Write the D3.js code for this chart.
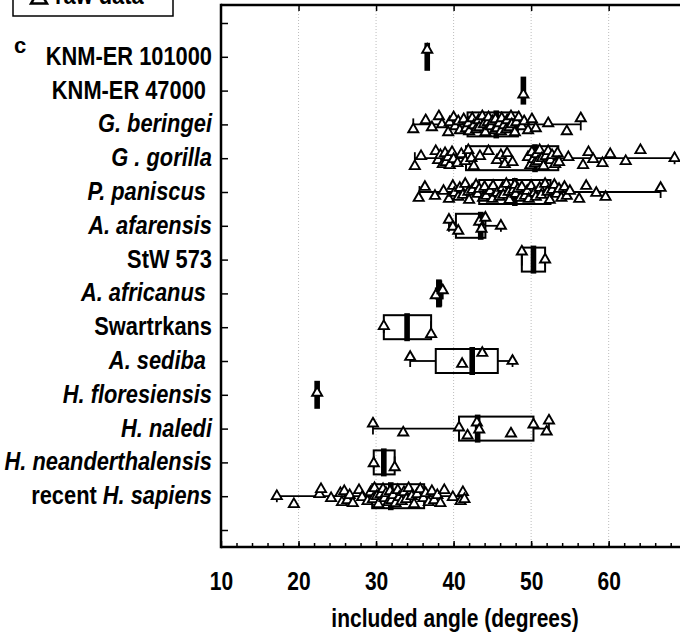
<!DOCTYPE html>
<html>
<head>
<meta charset="utf-8">
<script src="https://d3js.org/d3.v7.min.js"></script>
<style>
  html, body { margin: 0; padding: 0; background: #fff; }
  svg { display: block; }
  text { font-family: "Liberation Sans", Arial, sans-serif; font-weight: bold; fill: #000; }
</style>
</head>
<body>
<div id="chart"></div>
<script>
// categories, top to bottom
const categories = [
  "KNM-ER 101000", "KNM-ER 47000\u00a0", "G. beringei", "G . gorilla", "P. paniscus\u00a0",
  "A. afarensis", "StW 573", "A. africanus\u00a0", "Swartrkans", "A. sediba\u00a0",
  "H. floresiensis", "H. naledi", "H. neanderthalensis", "recent H. sapiens"
];
const uprightLabels = ["KNM-ER 101000", "KNM-ER 47000\u00a0", "StW 573", "Swartrkans"];

// box statistics (degrees)
const mins    = [36.6, 49.0, 34.8, 35.0, 35.6, 39.4, 48.8, 37.7, 31.0, 34.4, 22.4, 29.6, 29.7, 17.2];
const q1s     = [36.6, 49.0, 41.8, 41.6, 43.3, 40.3, 48.8, 37.9, 31.0, 37.7, 22.4, 40.7, 29.7, 29.5];
const medians = [36.6, 49.0, 45.5, 50.5, 47.9, 43.5, 50.3, 38.1, 34.0, 42.4, 22.4, 43.1, 31.0, 31.9];
const q3s     = [36.6, 49.0, 48.3, 53.5, 52.5, 44.1, 51.8, 38.4, 37.1, 45.7, 22.4, 50.3, 32.4, 36.2];
const maxs    = [36.6, 49.0, 56.4, 68.5, 66.7, 46.1, 51.8, 38.6, 37.1, 47.6, 22.4, 52.3, 32.4, 41.4];

// raw data
const knm101000 = [36.6];
const knm47000 = [49.0];
const beringei = [34.8, 36.4, 37.2, 38.1, 38.5, 39.3, 39.5, 40.0, 40.2, 40.6, 40.8, 41.3, 41.6, 41.9, 42.0,
  42.4, 42.6, 42.9, 43.2, 43.3, 43.7, 43.9, 44.1, 44.4, 44.5, 44.8, 45.0, 45.3, 45.4, 45.6, 45.9, 46.1,
  46.2, 46.5, 46.8, 46.9, 47.2, 47.4, 47.5, 47.9, 48.1, 48.4, 48.8, 49.1, 49.6, 50.1, 50.6, 52.2, 54.6, 56.4];
const gorilla = [35.0, 35.8, 37.7, 38.0, 38.3, 38.6, 38.9, 39.0, 39.3, 39.5, 39.8, 40.0, 40.5, 41.0, 41.5,
  41.9, 42.3, 42.6, 43.4, 44.5, 45.6, 46.1, 46.6, 46.9, 47.6, 49.6, 49.9, 50.1, 50.3, 50.5, 50.7, 50.9,
  51.1, 51.4, 51.6, 51.9, 52.2, 52.5, 52.7, 53.1, 53.4, 53.6, 54.8, 56.7, 57.4, 58.0, 59.2, 60.2, 62.2, 64.1, 68.5];
const paniscus = [35.5, 36.3, 37.6, 38.7, 39.4, 39.9, 40.1, 40.6, 40.8, 41.2, 41.5, 41.9, 42.0, 42.4, 42.9,
  43.1, 43.3, 43.8, 44.0, 44.2, 44.7, 45.0, 45.1, 45.6, 45.9, 46.3, 46.4, 46.8, 47.1, 47.2, 47.7, 47.9,
  48.0, 48.3, 48.6, 48.8, 49.2, 49.5, 49.7, 50.0, 50.4, 50.6, 51.1, 51.3, 51.8, 52.1, 52.4, 52.7, 53.0,
  53.3, 53.6, 53.9, 54.3, 54.6, 55.0, 56.2, 57.1, 58.4, 59.6, 66.7];
const afarensis = [39.4, 39.9, 40.6, 43.3, 43.6, 44.1, 46.1];
const stw573 = [48.8, 51.8];
const africanus = [37.7, 38.6];
const swartkrans = [31.0, 37.1];
const sediba = [34.4, 41.1, 43.7, 47.6];
const floresiensis = [22.4];
const naledi = [29.6, 33.5, 40.7, 41.8, 43.0, 43.3, 47.4, 50.3, 52.0, 52.3];
const neanderthalensis = [29.7, 32.4];
const sapiens = [17.2, 19.4, 22.7, 22.9, 24.2, 25.4, 25.6, 25.9, 26.3, 26.6, 27.0, 27.8, 28.2, 28.9, 29.3,
  29.6, 29.8, 30.1, 30.3, 30.6, 30.9, 31.1, 31.3, 31.6, 31.8, 32.0, 32.2, 32.5, 32.8, 33.0, 33.3, 33.6,
  33.9, 34.2, 34.6, 34.9, 35.3, 35.7, 36.1, 36.4, 36.8, 37.2, 37.5, 37.9, 38.3, 38.8, 39.9, 40.9, 41.2, 41.4];

const rawData = [knm101000, knm47000, beringei, gorilla, paniscus, afarensis, stw573, africanus,
  swartkrans, sediba, floresiensis, naledi, neanderthalensis, sapiens];

const xTicks = [10, 20, 30, 40, 50, 60];

// layout
const W = 680, H = 636;
const LEFT = 221, RIGHT = 680, TOP = 5, BOTTOM = 547;
const NARROW = 0.84;   // the original uses a condensed bold face
const JITTER = [-7, 2, -3, 6, -5, 4, -1, 7, -6, 1, 5, -4, 3, -8, 0, 8, -2];

const svg = d3.select("#chart").append("svg")
  .attr("width", W).attr("height", H);

const x = d3.scaleLinear().domain([10, 69.2]).range([LEFT, RIGHT]);
const y = d3.scaleLinear().domain([-1, 14]).range([23, 530]);

// place a text at (px, py) squeezed horizontally
function narrowAt(sel, px, py) {
  sel.attr("x", 0).attr("y", 0)
    .attr("transform", (d, i) => {
      const a = typeof px === "function" ? px(d, i) : px;
      const b = typeof py === "function" ? py(d, i) : py;
      return `translate(${a},${b}) scale(${NARROW},1)`;
    });
}

// dotted grid
svg.append("g").selectAll("line")
  .data(xTicks.slice(1))
  .join("line")
  .attr("x1", d => x(d)).attr("x2", d => x(d))
  .attr("y1", TOP).attr("y2", BOTTOM)
  .attr("stroke", "#bdbdbd").attr("stroke-width", 1)
  .attr("stroke-dasharray", "1,2");

// bottom axis: minor ticks, then major ticks with labels
const minorAxis = svg.append("g")
  .attr("transform", `translate(0,${BOTTOM})`)
  .call(d3.axisBottom(x).tickValues(d3.range(12, 69, 2)).tickSize(-4).tickFormat(""));
minorAxis.select(".domain").remove();

const bottomAxis = svg.append("g")
  .attr("transform", `translate(0,${BOTTOM})`)
  .call(d3.axisBottom(x).tickValues(xTicks).tickSize(-6).tickPadding(25).tickFormat(d3.format("d")));
bottomAxis.select(".domain").remove();
bottomAxis.selectAll("text")
  .attr("font-family", null)
  .style("font-size", "25px")
  .attr("transform", `scale(${NARROW},1)`);
svg.selectAll(".tick line").attr("stroke", "#000").attr("stroke-width", 1.5);

// top axis ticks
const topAxis = svg.append("g")
  .attr("transform", `translate(0,${TOP})`)
  .call(d3.axisTop(x).tickValues(xTicks.slice(1)).tickSize(-6).tickFormat(""));
topAxis.select(".domain").remove();
topAxis.selectAll(".tick line").attr("stroke", "#000").attr("stroke-width", 1.5);

// left axis ticks
const leftAxis = svg.append("g")
  .attr("transform", `translate(${LEFT},0)`)
  .call(d3.axisLeft(y).tickValues(d3.range(-1, 15)).tickSize(-7).tickFormat(""));
leftAxis.select(".domain").remove();
leftAxis.selectAll(".tick line").attr("stroke", "#000").attr("stroke-width", 1.5);

// frame
svg.append("line").attr("x1", LEFT).attr("x2", RIGHT).attr("y1", TOP).attr("y2", TOP)
  .attr("stroke", "#000").attr("stroke-width", 2.5);
svg.append("line").attr("x1", LEFT).attr("x2", RIGHT).attr("y1", BOTTOM).attr("y2", BOTTOM)
  .attr("stroke", "#000").attr("stroke-width", 2.5);
svg.append("line").attr("x1", LEFT).attr("x2", LEFT).attr("y1", TOP - 1.2).attr("y2", BOTTOM + 1.2)
  .attr("stroke", "#000").attr("stroke-width", 2.5);

// category labels
const labels = svg.append("g").selectAll("text")
  .data(categories)
  .join("text")
  .attr("text-anchor", "end")
  .style("font-size", "26px")
  .call(narrowAt, 212, (d, i) => y(i) + 8);
labels.each(function(d) {
  const t = d3.select(this);
  if (uprightLabels.includes(d)) {
    t.text(d);
  } else if (d.startsWith("recent ")) {
    t.append("tspan").text("recent ");
    t.append("tspan").attr("font-style", "italic").text(d.slice(7));
  } else {
    t.attr("font-style", "italic").text(d);
  }
});

// boxes
const stats = categories.map((c, i) => ({
  i, min: mins[i], q1: q1s[i], med: medians[i], q3: q3s[i], max: maxs[i]
}));
const boxes = svg.append("g").selectAll("g")
  .data(stats)
  .join("g");

boxes.append("line")
  .attr("x1", d => x(d.min)).attr("x2", d => x(d.q1))
  .attr("y1", d => y(d.i)).attr("y2", d => y(d.i))
  .attr("stroke", "#000").attr("stroke-width", 1.8);
boxes.append("line")
  .attr("x1", d => x(d.q3)).attr("x2", d => x(d.max))
  .attr("y1", d => y(d.i)).attr("y2", d => y(d.i))
  .attr("stroke", "#000").attr("stroke-width", 1.8);
boxes.selectAll(".cap")
  .data(d => [d.min, d.max].map(v => ({ v, i: d.i })))
  .join("line")
  .attr("class", "cap")
  .attr("x1", d => x(d.v)).attr("x2", d => x(d.v))
  .attr("y1", d => y(d.i) - 6).attr("y2", d => y(d.i) + 6)
  .attr("stroke", "#000").attr("stroke-width", 1.8);
boxes.append("rect")
  .attr("x", d => x(d.q1))
  .attr("width", d => x(d.q3) - x(d.q1))
  .attr("y", d => y(d.i) - 12)
  .attr("height", 24)
  .attr("fill", "none")
  .attr("stroke", "#000").attr("stroke-width", 2);
boxes.append("rect")
  .attr("x", d => x(d.med) - 2.8)
  .attr("width", 5.6)
  .attr("y", d => y(d.i) - 14)
  .attr("height", 28)
  .attr("fill", "#000");

// raw data triangles
const tri = d3.symbol().type(d3.symbolTriangle).size(44);
const points = rawData.flatMap((vals, i) => vals.map((v, k) => ({ v, i, k })));
svg.append("g").selectAll("path")
  .data(points)
  .join("path")
  .attr("d", tri)
  .attr("transform", d => `translate(${x(d.v)},${y(d.i) + JITTER[(d.k + d.i * 5) % JITTER.length]})`)
  .attr("fill", "#fff")
  .attr("stroke", "#000")
  .attr("stroke-width", 1.9);

// axis title
svg.append("text")
  .attr("text-anchor", "middle")
  .style("font-size", "25px")
  .text("included angle (degrees)")
  .call(narrowAt, 455, 627);

// panel letter
svg.append("text")
  .attr("x", 14).attr("y", 53)
  .style("font-size", "22px")
  .text("c");

// legend (mostly above the visible area)
const legend = svg.append("g");
legend.append("rect")
  .attr("x", 13).attr("y", -40).attr("width", 160).attr("height", 56)
  .attr("fill", "#fff").attr("stroke", "#000").attr("stroke-width", 1.5);
legend.append("path")
  .attr("d", d3.symbol().type(d3.symbolTriangle).size(110))
  .attr("transform", "translate(39,-1)")
  .attr("fill", "#fff").attr("stroke", "#000").attr("stroke-width", 2.5);
legend.append("text")
  .style("font-size", "26px")
  .text("raw data")
  .call(narrowAt, 55, 4);
</script>
</body>
</html>
